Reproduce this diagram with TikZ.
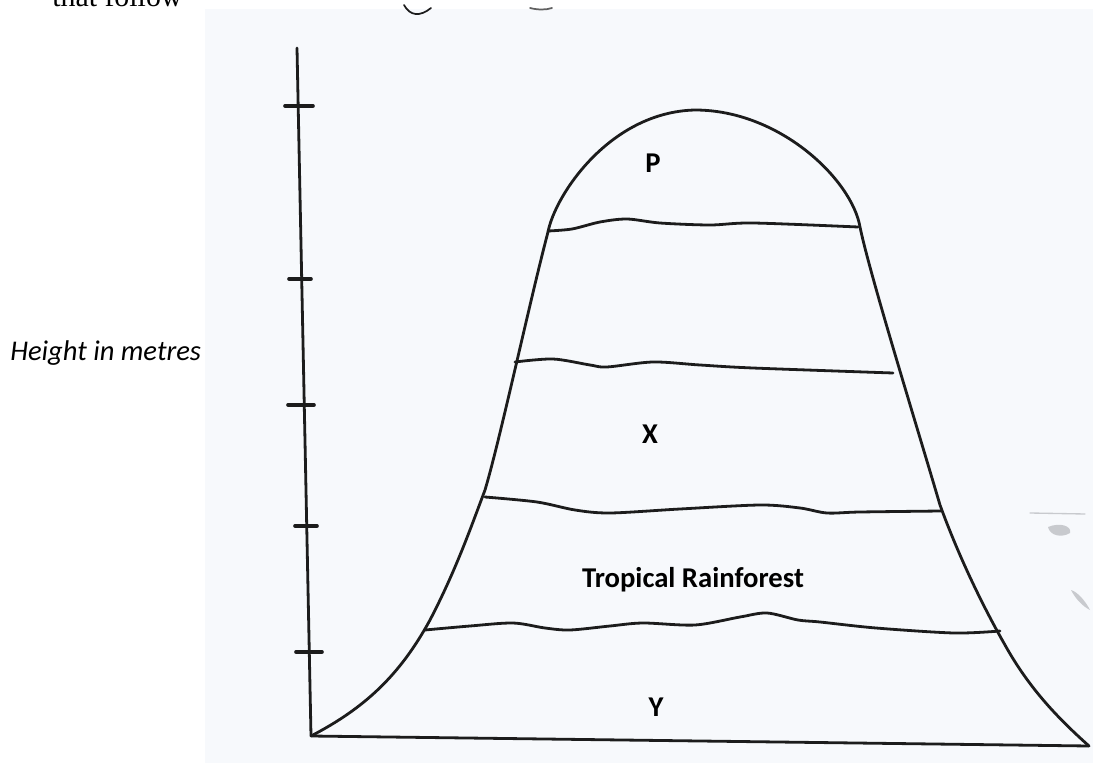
\documentclass[tikz,border=0pt]{standalone}
\usepackage{fontspec}
\setmainfont{Carlito}
\newfontfamily\scanserif{Liberation Serif}
\definecolor{scanbg}{RGB}{247,249,252}
\definecolor{inkc}{RGB}{28,28,28}
\definecolor{smudge}{RGB}{200,202,206}
\begin{document}
\begin{tikzpicture}[x=0.75pt,y=-0.75pt,line join=round,line cap=round,
  ink/.style={draw=inkc,line width=2.1pt},
  tickmark/.style={draw=inkc,line width=2.7pt},
  zone/.style={font=\bfseries\fontsize{21.5}{25}\selectfont,inner sep=0pt,text=black},
  axislabel/.style={font=\itshape\fontsize{21.4}{25}\selectfont,inner sep=0pt,anchor=west,text=black}]
\useasboundingbox (0,0) rectangle (1093,763);
\clip (0,0) rectangle (1093,763);
\fill[scanbg] (205,9) rectangle (1093,763);

% cut-off text at the top
\node[font=\scanserif\fontsize{22.4}{26}\selectfont,anchor=base west,inner sep=0pt] (follow) at (52,6.5) {that follow};

% scan scribbles
\draw[draw=inkc,line width=1.3pt] (404,5) .. controls (410,16) and (420,17) .. (431,8);
\draw[draw=inkc!70,line width=1.3pt] (530,8) .. controls (538,10) and (546,10) .. (552,8);
\draw[draw=smudge,line width=1pt] (1030,513) -- (1085,514);
\fill[smudge] (1048,527) .. controls (1060,522) and (1072,526) .. (1070,533) .. controls (1062,538) and (1050,536) .. (1048,527) -- cycle;
\fill[smudge] (1071,590) .. controls (1078,592) and (1086,602) .. (1090,610) .. controls (1082,606) and (1075,598) .. (1071,590) -- cycle;

% axes
\coordinate (top) at (297,48);
\coordinate (origin) at (311,736);
\coordinate (xend) at (1089,746);
\draw[ink] (top) -- (origin) -- (xend);
\foreach \y/\a/\b in {106/285/313, 279/289/311, 405/288/314, 526/295/317, 652/296/322}
  \draw[tickmark] (\a,\y) -- (\b,\y);

% mountain outline
\coordinate (peak) at (695,110);
\draw[ink] (origin)
  .. controls (365,708) and (400,675) .. (430,620)
  .. controls (455,572) and (470,530) .. (485,490)
  .. controls (500,440) and (530,300) .. (548,232)
  .. controls (555,195) and (610,112) .. (peak)
  .. controls (780,110) and (852,180) .. (860,227)
  .. controls (870,275) and (915,420) .. (940,505)
  .. controls (960,560) and (985,610) .. (1005,645)
  .. controls (1030,690) and (1060,720) .. (xend);

% zone boundaries
\draw[ink] plot[smooth,tension=0.5] coordinates {
  (548,231) (572,229) (600,222) (627,219) (660,223) (710,225) (753,223) (858,227)};
\draw[ink] plot[smooth,tension=0.5] coordinates {
  (515,362) (553,359) (590,365) (607,367) (653,362) (700,365) (753,368) (893,373)};
\draw[ink] plot[smooth,tension=0.5] coordinates {
  (485,497) (537,502) (575,510) (610,513) (680,509) (760,505) (800,508) (827,513) (860,512) (941,511)};
\draw[ink] plot[smooth,tension=0.5] coordinates {
  (425,630) (470,626) (513,623) (545,628) (570,630) (610,626) (643,623) (695,625)
  (740,617) (767,613) (798,620) (820,622) (876,628) (954,633) (1000,631)};

% labels
\node[axislabel] (ylabel) at (10,353) {Height in metres};
\node[zone] (P) at (653,163) {P};
\node[zone] (X) at (650,434) {X};
\node[zone] (TR) at (693,580) {Tropical Rainforest};
\node[zone] (Y) at (656,707) {Y};
\end{tikzpicture}
\end{document}
